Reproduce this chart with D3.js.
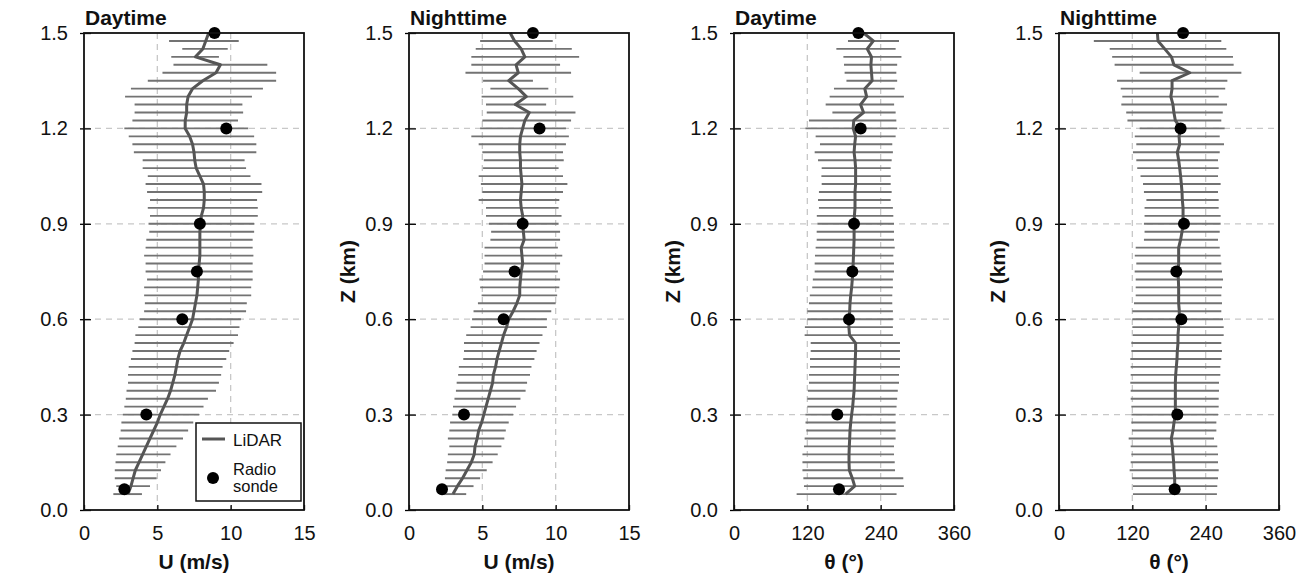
<!DOCTYPE html>
<html><head><meta charset="utf-8">
<script src="https://cdn.jsdelivr.net/npm/d3@7"></script>
<style>body{margin:0;background:#fff}svg{display:block}text{font-family:"Liberation Sans",Arial,sans-serif}</style>
</head><body><svg id="c" width="1309" height="576"></svg>
<script>
// heights (km), from top to bottom
const heights = [1.5,1.475,1.45,1.425,1.4,1.375,1.35,1.325,1.3,1.275,1.25,1.225,1.2,1.175,1.15,1.125,1.1,1.075,1.05,1.025,1.0,0.975,0.95,0.925,0.9,0.875,0.85,0.825,0.8,0.775,
 0.75,0.725,0.7,0.675,0.65,0.625,0.6,0.575,0.55,0.525,0.5,0.475,0.45,0.425,0.4,0.375,0.35,0.325,0.3,0.275,0.25,0.225,0.2,0.175,0.15,0.125,0.1,0.075,0.05];
const sondeHeights = [1.5,1.2,0.9,0.75,0.6,0.3,0.065];

// Panel 1: Daytime U
const dayU = [8.5,8.3,8.1,7.6,9.3,9.0,8.1,7.4,7.1,7.0,7.0,6.9,6.9,7.2,7.4,7.5,7.55,7.65,7.9,8.15,8.2,8.2,8.15,8.0,7.95,7.9,7.9,7.9,7.9,7.85,
 7.8,7.8,7.75,7.7,7.6,7.5,7.4,7.2,7.0,6.8,6.55,6.4,6.3,6.2,6.05,5.9,5.7,5.45,5.2,5.0,4.75,4.5,4.25,4.0,3.75,3.5,3.35,3.2,3.0];
const dayULo = [null,5.8,6.7,5.95,6.1,5.35,4.35,3.2,2.8,3.45,3.45,3.3,2.75,3.05,3.3,3.4,4.0,4.0,4.35,4.2,4.3,4.5,4.35,4.5,4.4,4.45,4.25,4.2,4.1,4.2,
 4.2,4.3,4.1,4.1,4.15,4.1,3.8,3.7,3.5,3.45,3.3,3.2,3.05,3.0,3.0,2.9,2.85,2.75,2.65,2.55,2.5,2.4,2.3,2.2,2.15,2.1,2.1,2.2,2.0];
const dayUHi = [null,10.55,9.8,9.2,12.5,13.1,13.1,12.2,11.45,10.8,10.85,10.5,11.2,11.6,11.75,11.75,10.95,11.05,11.35,12.1,12.15,11.8,11.85,11.85,11.6,11.6,11.5,11.5,11.55,11.5,
 11.5,11.5,11.4,11.4,11.1,11.05,10.7,10.6,10.5,10.2,9.9,9.7,9.45,9.35,9.2,9.0,8.45,8.15,7.85,7.45,7.1,6.75,6.3,5.9,5.55,5.25,4.95,4.5,3.95];
const daySondeU = [8.9,9.7,7.9,7.7,6.7,4.25,2.75];

// Panel 2: Nighttime U
const nightU = [6.9,7.2,7.65,7.9,7.3,7.45,6.8,7.45,8.0,7.25,8.2,7.9,7.75,7.6,7.55,7.55,7.6,7.6,7.65,7.7,7.65,7.6,7.65,7.75,7.75,7.8,7.85,7.65,7.7,7.75,
 7.65,7.6,7.55,7.55,7.35,7.1,6.8,6.65,6.45,6.3,6.15,6.0,5.9,5.75,5.7,5.55,5.4,5.25,5.1,4.95,4.75,4.65,4.5,4.45,4.25,3.95,3.65,3.3,3.0];
const nightULo = [null,4.85,4.55,4.25,4.25,3.85,5.05,5.55,4.95,5.25,5.3,5.0,4.85,4.25,4.75,5.0,5.1,5.05,4.75,4.9,5.0,4.75,5.25,5.25,5.45,5.6,5.55,5.15,5.15,5.15,
 5.05,4.8,4.85,4.95,4.7,4.4,4.3,4.2,3.9,3.75,3.75,3.7,3.4,3.35,3.25,3.2,3.1,3.0,2.95,2.8,2.75,2.65,2.75,2.65,2.6,2.5,2.45,2.55,2.25];
const nightUHi = [null,9.8,11.1,11.6,10.3,11.05,8.45,9.5,11.2,9.35,11.35,11.05,10.7,10.9,10.7,10.5,10.55,10.2,10.5,10.8,10.5,10.25,10.2,10.4,10.2,10.3,10.3,10.15,10.45,10.3,
 10.15,10.3,10.25,10.1,10.0,9.7,9.4,9.4,9.1,8.9,8.7,8.55,8.35,8.25,8.05,7.95,7.6,7.3,7.1,6.8,6.6,6.5,6.3,6.05,5.7,5.3,4.85,4.4,3.9];
const nightSondeU = [8.45,8.9,7.75,7.2,6.45,3.75,2.25];

// Panel 3: Daytime theta
const dayT = [212,228,218,225,224,225,226,214,217,207,212,196,195,199,197.5,196.5,198,199,199,199,198,198,198,197,196.5,196.5,196.5,196,195.5,195,
 194.7,193.6,192.5,191,189.8,189.3,188.2,188,189,199,199,198.5,198,197.5,197,196.5,195.3,194.2,192.5,191,189.8,189.3,188.7,188.2,188.2,188.7,193.6,197.5,182.7];
const dayTLo = [null,186.5,167.5,179,180,181,184,163.6,156.5,150,161,122.7,117,133.6,140.7,132,137.5,143.5,143,143.5,139,137.5,139,135.5,136.4,135.3,135.3,133.6,132.5,132,
 132,129,128,124,122.7,120,120,116,115.6,125.5,125.5,124.4,124.4,122.7,122.7,121,120,120,117,117,118.4,115.6,114.5,112,112,112,113.5,114.5,102.5];
const dayTHi = [null,270,264.5,274,267,265.6,267,263,278,262,264.5,265.6,267,264.5,259,260,258,256.4,256.4,256.4,258,256.4,260,260.7,261.8,261.8,261.8,263,260.7,261.8,
 261.8,260,260,259,259,260,260,260,260,271.6,271.6,271.6,271.6,270,270,268,267,266,264.5,264.5,264.5,264.5,261.8,261.8,263,263.5,277,278,266];
const daySondeT = [203.5,207.3,196.4,193.6,188.2,169,171.8];

// Panel 4: Nighttime theta
const nightT = [161,162,173,184,188,214,185,185,183,186.5,188,190.4,199,196.4,197.5,193.6,195.8,197.5,199,200.2,201.3,201.8,203,203,203,201.3,199,195.8,195.8,195.8,
 194.7,195.3,195.8,195.8,195.8,196.9,196.4,195.8,194.7,194.7,193.6,193.1,192,190.9,190.4,190.4,190.4,190.4,190.4,188.2,186.5,183.8,185.5,186.5,187.6,188.2,189.3,189.3,189.3];
const nightTLo = [null,57,83,87,91,132,95,101,103.6,102,110,112,132,124,126.5,121,126.5,128,133.4,137.5,139,143,140,140,139,140,139,125.5,124,126.5,
 123.8,125.5,125.5,125.5,122.7,120,120,120,121,118.4,118.4,116.7,117.3,117.3,116.7,117.3,117.3,118.4,118.4,118.4,119.5,114,117.3,118.4,117.3,115.6,119.5,121,121];
const nightTHi = [null,265.6,273.8,284.7,285.8,298.4,275.5,272,261.3,275,268,265.6,271,263,270,263,260.2,261.3,260.2,264.5,260.2,261.3,261.3,264.5,264.5,263,260.2,263,264.5,265.6,
 266.7,268.4,266.7,265.6,266.7,265.6,268.4,269.5,269.5,265.6,266.7,265.6,264,264,261.8,261.8,261.3,261.3,260.2,257.5,257.5,253.7,259,260.2,260.2,261.3,260.2,259,258.4];
const nightSondeT = [203,199,204.5,192,200.2,193.6,189.3];

const titles = ["Daytime","Nighttime","Daytime","Nighttime"];
const xLabels = ["U (m/s)","U (m/s)","θ (°)","θ (°)"];
const uTicks = [0,5,10,15];
const tTicks = [0,120,240,360];
const zTicks = [0,0.3,0.6,0.9,1.2,1.5];

const panels = [
  {c:dayU, lo:dayULo, hi:dayUHi, s:daySondeU, dom:[0,15], ticks:uTicks, grid:[5,10], ylab:false, legend:true},
  {c:nightU, lo:nightULo, hi:nightUHi, s:nightSondeU, dom:[0,15], ticks:uTicks, grid:[5,10], ylab:true},
  {c:dayT, lo:dayTLo, hi:dayTHi, s:daySondeT, dom:[0,360], ticks:tTicks, grid:[120,240], ylab:true},
  {c:nightT, lo:nightTLo, hi:nightTHi, s:nightSondeT, dom:[0,360], ticks:tTicks, grid:[120,240], ylab:true}
];

const FONT = '"Liberation Sans",Arial,sans-serif';
const svg = d3.select("#c");
const pTop = 33, pBottom = 510, pw = 220;
const y = d3.scaleLinear().domain([0,1.5]).range([pBottom, pTop]);

panels.forEach((p, i) => {
  const left = 84 + 325*i;
  const x = d3.scaleLinear().domain(p.dom).range([left, left+pw]);
  const g = svg.append("g");

  // grid
  g.selectAll(".hg").data([0.3,0.6,0.9,1.2]).join("line")
    .attr("x1", left).attr("x2", left+pw).attr("y1", d=>y(d)).attr("y2", d=>y(d))
    .attr("stroke", "#c8c8c8").attr("stroke-width", 1.3).attr("stroke-dasharray", "6,5");
  g.selectAll(".vg").data(p.grid).join("line")
    .attr("y1", pTop).attr("y2", pBottom).attr("x1", d=>x(d)).attr("x2", d=>x(d))
    .attr("stroke", "#c8c8c8").attr("stroke-width", 1.3).attr("stroke-dasharray", "6,5");

  // error bars
  const bars = heights.map((h, k) => ({h, lo:p.lo[k], hi:p.hi[k]})).filter(d => d.lo != null);
  g.selectAll(".eb").data(bars).join("line")
    .attr("x1", d=>x(d.lo)).attr("x2", d=>x(d.hi)).attr("y1", d=>y(d.h)).attr("y2", d=>y(d.h))
    .attr("stroke", "#737373").attr("stroke-width", 1.9);

  // LiDAR line
  const line = d3.line().x(d=>x(d[0])).y(d=>y(d[1]));
  g.append("path").datum(heights.map((h,k)=>[p.c[k], h]))
    .attr("d", line).attr("fill","none").attr("stroke","#555").attr("stroke-width",3).attr("stroke-linejoin","round");

  // sonde dots
  g.selectAll(".dot").data(sondeHeights.map((h,k)=>[p.s[k],h])).join("circle")
    .attr("cx", d=>x(d[0])).attr("cy", d=>y(d[1])).attr("r", 6).attr("fill","#000");

  // axes ticks
  const xa = d3.axisBottom(x).tickValues(p.ticks).tickSize(-5).tickPadding(16).tickFormat(d3.format("d"));
  const xg = g.append("g").attr("transform", `translate(0,${pBottom})`).call(xa);
  xg.select(".domain").remove();
  xg.selectAll("line").attr("stroke","#000").attr("stroke-width",1.3);
  xg.selectAll("text").attr("font-size", 20).attr("fill","#111").attr("dy","0.71em")
    .attr("font-family", FONT);

  const ya = d3.axisLeft(y).tickValues(zTicks).tickSize(-7).tickPadding(16).tickFormat(d3.format(".1f"));
  const yg = g.append("g").attr("transform", `translate(${left},0)`).call(ya);
  yg.select(".domain").remove();
  yg.selectAll("line").attr("stroke","#000").attr("stroke-width",1.3).attr("x1", -4);
  yg.selectAll("text").attr("font-size", 20).attr("fill","#111")
    .attr("font-family", FONT);

  // frame
  g.append("rect").attr("x", left).attr("y", pTop).attr("width", pw).attr("height", pBottom-pTop)
    .attr("fill","none").attr("stroke","#111").attr("stroke-width",1.8);

  // title
  g.append("text").attr("x", left+1).attr("y", 25).text(titles[i])
    .attr("font-size", 21).attr("font-weight","bold").attr("fill","#111");

  // x label
  g.append("text").attr("x", left+pw/2).attr("y", 569).attr("text-anchor","middle").text(xLabels[i])
    .attr("font-size", 21).attr("font-weight","bold").attr("fill","#111");

  if (p.ylab) {
    g.append("text").attr("transform", `translate(${left-54},${(pTop+pBottom)/2}) rotate(-90)`)
      .attr("text-anchor","middle").text("Z (km)")
      .attr("font-size", 21).attr("font-weight","bold").attr("fill","#111");
  }

  if (p.legend) {
    const lx = 196, ly = 423;
    g.append("rect").attr("x", lx).attr("y", ly).attr("width", 105).attr("height", 78)
      .attr("fill","#fff").attr("stroke","#111").attr("stroke-width",1.5);
    g.append("line").attr("x1", lx+6).attr("x2", lx+29).attr("y1", ly+16).attr("y2", ly+16)
      .attr("stroke","#555").attr("stroke-width",3);
    g.append("text").attr("x", lx+37).attr("y", ly+23).text("LiDAR").attr("font-size",17).attr("fill","#111");
    g.append("circle").attr("cx", lx+17).attr("cy", ly+55).attr("r", 6).attr("fill","#000");
    const t2 = g.append("text").attr("x", lx+37).attr("y", ly+52).attr("font-size",16.5).attr("fill","#111");
    t2.append("tspan").attr("x", lx+37).text("Radio");
    t2.append("tspan").attr("x", lx+37).attr("dy", 17).text("sonde");
  }
});
</script></body></html>
